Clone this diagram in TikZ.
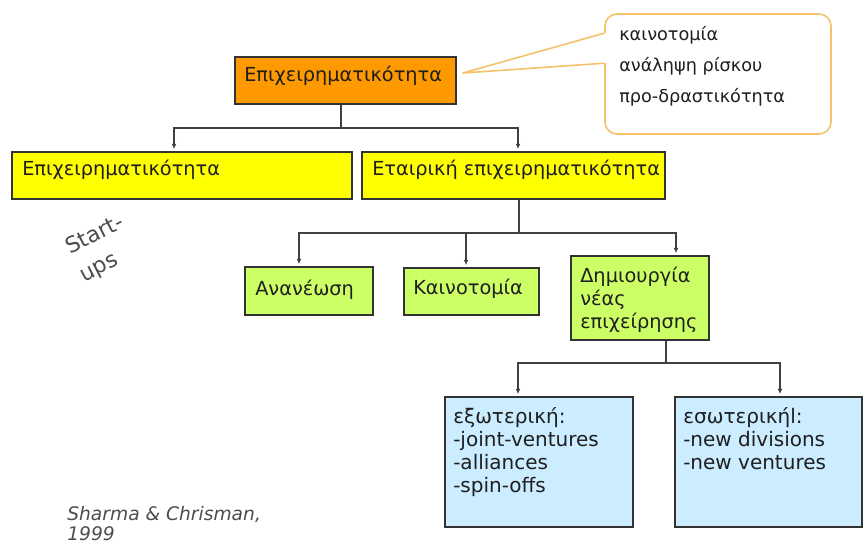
\documentclass[tikz,border=0pt]{standalone}
\usepackage{fontspec}
\setmainfont{DejaVu Sans}
\usetikzlibrary{arrows.meta,fit,calc}

\definecolor{orangefill}{HTML}{FF9900}
\definecolor{yellowfill}{HTML}{FFFF00}
\definecolor{greenfill}{HTML}{CCFF66}
\definecolor{bluefill}{HTML}{CCECFF}
\definecolor{noteline}{HTML}{F5C26B}
\definecolor{boxline}{HTML}{333333}
\definecolor{linkline}{HTML}{404040}
\definecolor{ink}{HTML}{1F1F1F}
\definecolor{greyink}{HTML}{4D4D4D}

% first-line-baseline stack of left aligned lines
\newcommand\textstack[1]{\begin{tabular}[t]{@{}l@{}}#1\end{tabular}}

\begin{document}
\begin{tikzpicture}[x=0.75pt,y=-0.75pt,
  box/.style={draw=boxline, line width=1.2pt, inner sep=0pt},
  link/.style={draw=linkline, line width=1.1pt},
  arrowlink/.style={link, -{Latex[length=4pt,width=3.6pt]}, shorten >=1.5pt},
  txt/.style={anchor=base west, inner sep=0pt, text=ink,
    font=\fontsize{14.5}{17.25}\selectfont},
  bluetxt/.style={txt, font=\fontsize{15}{17.3}\selectfont},
  notetxt/.style={txt, font=\fontsize{13.25}{23.25}\selectfont},
  greytxt/.style={anchor=base west, inner sep=0pt, text=greyink}]

\useasboundingbox (0,0) rectangle (864,544);
\fill[white] (0,0) rectangle (864,544);

% boxes
\node[box, fill=orangefill, fit={(235,57) (456,104)}] (top) {};
\node[box, fill=yellowfill, fit={(12,152) (352,199)}] (yel1) {};
\node[box, fill=yellowfill, fit={(362,152) (665,199)}] (yel2) {};
\node[box, fill=greenfill, fit={(245,267) (373,315)}] (ren) {};
\node[box, fill=greenfill, fit={(404,268) (539,315)}] (inn) {};
\node[box, fill=greenfill, fit={(571,256) (709,340)}] (dem) {};
\node[box, fill=bluefill, fit={(445,397) (633,527)}] (ext) {};
\node[box, fill=bluefill, fit={(675,397) (862,527)}] (int) {};

% speech bubble with its pointer
\node[draw=noteline, line width=1.2pt, fill=white, rounded corners=9pt,
  inner sep=0pt, fit={(605,14) (831,134)}] (note) {};
\coordinate (tipP) at (463,73);
\fill[white] ($(note.north west)+(2,20)$) -- ($(note.north west)+(0,20)$) -- (tipP)
  -- ($(note.north west)+(0,50)$) -- ($(note.north west)+(2,50)$) -- cycle;
\draw[noteline, line width=1.2pt, line join=round]
  ($(note.north west)+(0,20)$) -- (tipP) -- ($(note.north west)+(0,50)$);

% connectors
\coordinate (hubA) at (341,128);
\draw[link] (top.south -| hubA) -- (hubA);
\draw[arrowlink] (hubA) -| ([xshift=-6pt]yel1.north);
\draw[arrowlink] (hubA) -| ([xshift=3.4pt]yel2.north);

\coordinate (hubB) at (519,233);
\draw[link] (yel2.south -| hubB) -- (hubB);
\draw[arrowlink] (hubB) -| ([xshift=-7.5pt]ren.north);
\draw[arrowlink] (hubB) -| ([xshift=-4.1pt]inn.north);
\draw[arrowlink] (hubB) -| ([xshift=27pt]dem.north);

\coordinate (hubC) at (666,363);
\draw[link] (dem.south -| hubC) -- (hubC);
\draw[arrowlink] (hubC) -| ([xshift=-15.75pt]ext.north);
\draw[arrowlink] (hubC) -| ([xshift=8.6pt]int.north);

% texts
\node[txt] (topT) at (244,81) {Επιχειρηματικότητα};
\node[txt] (yel1T) at (22,175) {Επιχειρηματικότητα};
\node[txt] (yel2T) at (372,175) {Εταιρική επιχειρηματικότητα};
\node[txt] (renT) at (255,295) {Ανανέωση};
\node[txt] (innT) at (413,294) {Καινοτομία};
\node[txt] (demT) at (580,282) {\textstack{Δημιουργία\\νέας\\επιχείρησης}};
\node[bluetxt] (extT) at (453,423) {\textstack{εξωτερική:\\-joint-ventures\\-alliances\\-spin-offs}};
\node[bluetxt] (intT) at (683,423) {\textstack{εσωτερικήl:\\-new divisions\\-new ventures}};
\node[notetxt] (noteT) at (619,40) {\textstack{καινοτομία\\ανάληψη ρίσκου\\προ-δραστικότητα}};

\node[greytxt, rotate=27, font=\fontsize{16.5}{23}\selectfont] (startT) at (70,255)
  {\textstack{Start-\\ups}};
\node[greytxt, font=\itshape\fontsize{14}{15}\selectfont] (citeT) at (67,520)
  {\textstack{Sharma \& Chrisman,\\1999}};
\end{tikzpicture}
\end{document}
